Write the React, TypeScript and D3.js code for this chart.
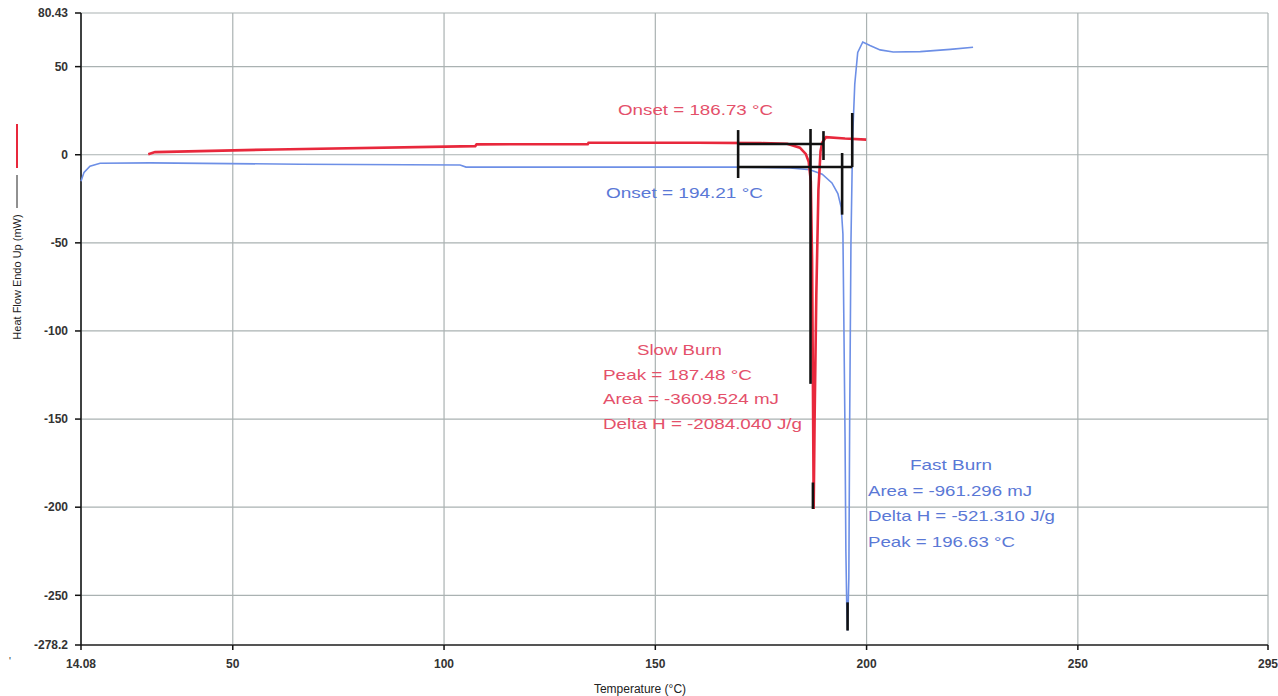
import React from "react";
import * as d3 from "d3";

// ---- Data ----
const xTicks = [14.08, 50, 100, 150, 200, 250, 295];
const xTickLabels = ["14.08", "50", "100", "150", "200", "250", "295"];
const yTicks = [80.43, 50, 0, -50, -100, -150, -200, -250, -278.2];
const yTickLabels = ["80.43", "50", "0", "-50", "-100", "-150", "-200", "-250", "-278.2"];

// Slow burn (red)
const slowT = [30.0, 31.6, 60, 107.4, 107.7, 134.0, 134.2, 160, 175, 181.2, 184.2, 185.6, 186.3, 186.8, 187.1, 187.3, 187.48, 187.7, 188.1, 188.6, 189.1, 189.5, 190.4, 194.9, 199.9];
const slowV = [0.3, 1.5, 3.0, 4.9, 5.9, 6.0, 6.8, 6.8, 6.6, 6.2, 4.0, 0.5, -4, -15, -60, -130, -201, -150, -80, -20, 2, 7, 10, 9.2, 8.6];

// Fast burn (blue)
const fastT = [14.08, 14.8, 16.2, 18.6, 30.4, 65.9, 103.8, 105.2, 140, 169.6, 181.9, 186.6, 189.5, 191.8, 193.2, 194.0, 194.4, 194.6, 194.9, 195.1, 195.3, 195.5, 195.8, 196.0, 196.3, 196.7, 197.2, 197.9, 199.1, 200.8, 203.2, 206.3, 212.7, 219.8, 225.2];
const fastV = [-15, -10, -6.5, -4.8, -4.6, -5.4, -5.8, -7.0, -7.0, -7.0, -7.5, -8.5, -11, -16, -22, -30, -45, -90, -160, -225, -255, -270, -240, -150, -50, 10, 40, 58, 64, 62, 59.5, 58.3, 58.5, 59.8, 61];

// Analysis construction lines (black): [T1, V1, T2, V2]
const slowConstruction = [
  [169.6, 6.1, 189.8, 6.1],
  [169.6, 14.0, 169.6, -13.2],
  [189.8, 13.4, 189.8, -3.0],
  [186.73, 14.6, 186.73, -130],
  [187.3, -186, 187.3, -201],
];
const fastConstruction = [
  [169.6, -7.0, 196.6, -7.0],
  [196.6, 23.7, 196.6, -7.0],
  [194.21, 1.0, 194.21, -34],
  [195.5, -254, 195.5, -270],
];

const slowLabels = ["Slow Burn", "Peak = 187.48 °C", "Area = -3609.524 mJ", "Delta H = -2084.040 J/g"];
const fastLabels = ["Fast Burn", "Area = -961.296 mJ", "Delta H = -521.310 J/g", "Peak = 196.63 °C"];

const W = 1278;
const H = 696;
const RED = "#e8283c";
const RED_TEXT = "#e4506a";
const BLUE = "#6d8fe6";
const BLUE_TEXT = "#5a78d6";
const GRID = "#aab2b2";

export default function App() {
  const x = d3.scaleLinear().domain([14.08, 295]).range([81, 1268]);
  const y = d3.scaleLinear().domain([-278.2, 80.43]).range([645, 13]);

  const line = d3
    .line<[number, number]>()
    .x((d) => x(d[0]))
    .y((d) => y(d[1]));

  const slowPath = line(slowT.map((t, i) => [t, slowV[i]] as [number, number])) || "";
  const fastPath = line(fastT.map((t, i) => [t, fastV[i]] as [number, number])) || "";

  const font = "'Liberation Sans', Arial, sans-serif";

  return (
    <div style={{ position: "fixed", left: 0, top: 0 }}>
      <svg width={W} height={H} style={{ display: "block", background: "#fff" }}>
        {/* grid */}
        {yTicks.map((v, i) => (
          <line key={"gy" + i} x1={x(14.08)} x2={x(295)} y1={y(v)} y2={y(v)} stroke={GRID} strokeWidth={1.2} />
        ))}
        {xTicks.map((v, i) => (
          <line key={"gx" + i} x1={x(v)} x2={x(v)} y1={y(80.43)} y2={y(-278.2)} stroke={GRID} strokeWidth={1.2} />
        ))}

        {/* axes */}
        <line x1={x(14.08)} x2={x(295)} y1={y(-278.2)} y2={y(-278.2)} stroke="#555" strokeWidth={2} />
        <line x1={x(14.08)} x2={x(14.08)} y1={y(80.43)} y2={y(-278.2)} stroke="#111" strokeWidth={1.5} />
        {yTicks.map((v, i) => (
          <g key={"ty" + i}>
            <line x1={x(14.08) - 6} x2={x(14.08)} y1={y(v)} y2={y(v)} stroke="#111" strokeWidth={1.5} />
            <text x={68} y={y(v)} dy="0.35em" textAnchor="end" fontFamily={font} fontSize={12} fontWeight="bold" fill="#333">
              {yTickLabels[i]}
            </text>
          </g>
        ))}
        {xTicks.map((v, i) => (
          <g key={"tx" + i}>
            <line x1={x(v)} x2={x(v)} y1={y(-278.2)} y2={y(-278.2) + 5} stroke="#111" strokeWidth={1.5} />
            <text x={x(v)} y={668} textAnchor="middle" fontFamily={font} fontSize={12} fontWeight="bold" fill="#333">
              {xTickLabels[i]}
            </text>
          </g>
        ))}
        <text x={9} y={665} fontFamily={font} fontSize={10} fill="#333">'</text>

        {/* axis titles */}
        <text x={640} y={693} textAnchor="middle" fontFamily={font} fontSize={12} fill="#222">
          Temperature (°C)
        </text>
        <text transform="translate(21,277) rotate(-90)" textAnchor="middle" fontFamily={font} fontSize={11} fill="#222">
          Heat Flow Endo Up (mW)
        </text>
        <line x1={17} x2={17} y1={124} y2={168} stroke={RED} strokeWidth={2} />
        <line x1={17} x2={17} y1={175} y2={208} stroke="#222" strokeWidth={1} />

        {/* curves */}
        <path d={fastPath} fill="none" stroke={BLUE} strokeWidth={1.6} />
        <path d={slowPath} fill="none" stroke={RED} strokeWidth={2.6} />

        {/* construction lines */}
        {slowConstruction.concat(fastConstruction).map((s, i) => (
          <line key={"c" + i} x1={x(s[0])} y1={y(s[1])} x2={x(s[2])} y2={y(s[3])} stroke="#111" strokeWidth={2.6} />
        ))}

        {/* annotations */}
        <text x={618} y={115} fontFamily={font} fontSize={15} fill={RED_TEXT} textLength={155} lengthAdjust="spacingAndGlyphs">
          Onset = 186.73 °C
        </text>
        <text x={606} y={198} fontFamily={font} fontSize={15} fill={BLUE_TEXT} textLength={157} lengthAdjust="spacingAndGlyphs">
          Onset = 194.21 °C
        </text>
        {slowLabels.map((t, i) => (
          <text
            key={"sl" + i}
            x={i === 0 ? 637 : 603}
            y={355 + i * 24.5}
            fontFamily={font}
            fontSize={15}
            fill={RED_TEXT}
            textLength={[85, 149, 176, 199][i]}
            lengthAdjust="spacingAndGlyphs"
          >
            {t}
          </text>
        ))}
        {fastLabels.map((t, i) => (
          <text
            key={"fl" + i}
            x={i === 0 ? 910 : 868}
            y={470 + i * 25.5}
            fontFamily={font}
            fontSize={15}
            fill={BLUE_TEXT}
            textLength={[82, 164, 187, 147][i]}
            lengthAdjust="spacingAndGlyphs"
          >
            {t}
          </text>
        ))}
      </svg>
    </div>
  );
}
